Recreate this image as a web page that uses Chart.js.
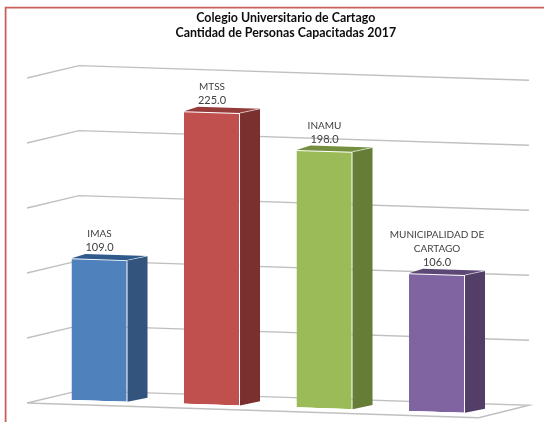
<!DOCTYPE html>
<html>
<head>
<meta charset="utf-8">
<style>html,body{margin:0;padding:0;background:#fff}canvas{display:block;filter:blur(0.35px)}</style>
<script src="https://cdn.jsdelivr.net/npm/chart.js@4"></script>
</head>
<body>
<canvas id="c" width="544" height="422"></canvas>
<script>
const titleLines = ['Colegio Universitario de Cartago', 'Cantidad de Personas Capacitadas 2017'];
const categories = ['IMAS', 'MTSS', 'INAMU', 'MUNICIPALIDAD DE CARTAGO'];
const labelLines = [['IMAS'], ['MTSS'], ['INAMU'], ['MUNICIPALIDAD DE', 'CARTAGO']];
const values = [109, 225, 198, 106];
const yTicks = [0, 50, 100, 150, 200, 250];
const frontColors = ['#4f81bd', '#c0504d', '#9bbb59', '#8064a2'];
const sideColors = ['#32547d', '#7a302e', '#667d38', '#523e66'];
const topColors = ['#2f5a8c', '#953c3a', '#738f3f', '#5c4775'];

const SHEAR = 0.0326;
const DEPTH_X = 20, DEPTH_Y = -4.85, TOP_INSET = 6;

const perspective = {
  id: 'perspective',
  afterLayout(chart) {
    // centre the title on the reference's title column
    const t = chart.titleBlock;
    if (t) { t.left += 35; }
  },
  beforeDraw(chart) {
    const ctx = chart.ctx;
    ctx.save();
    ctx.fillStyle = '#ffffff';
    ctx.fillRect(0, 0, chart.width, chart.height);
    ctx.strokeStyle = '#c9605d';
    ctx.lineWidth = 1.8;
    ctx.beginPath();
    ctx.moveTo(5.6, 424);
    ctx.lineTo(5.6, 7.6);
    ctx.lineTo(546, 7.6);
    ctx.stroke();
    ctx.restore();
  },
  beforeDatasetsDraw(chart) {
    const ctx = chart.ctx, y = chart.scales.y;
    ctx.save();
    ctx.transform(1, SHEAR, 0, 1, 0, 0);
    // walls and floor, placed from the value scale
    const xl = 27, xb = 79, xr = 529, xf = 478.7, front = 4.45, back = -9.64;
    ctx.strokeStyle = '#c0c0c0';
    ctx.lineWidth = 1.4;
    yTicks.forEach(v => {
      const p = y.getPixelForValue(v);
      ctx.beginPath();
      ctx.moveTo(xl, p + front);
      ctx.lineTo(xb, p + back);
      ctx.lineTo(xr, p + back);
      if (v === 0) {
        ctx.lineTo(xf, p + front);
        ctx.lineTo(xl, p + front);
      }
      ctx.stroke();
    });
  },
  afterDatasetsDraw(chart) {
    const ctx = chart.ctx;
    const bars = chart.getDatasetMeta(0).data;
    bars.forEach((b, i) => {
      const l = b.x - b.width / 2, r = b.x + b.width / 2;
      ctx.fillStyle = sideColors[i];
      ctx.beginPath();
      ctx.moveTo(r, b.y);
      ctx.lineTo(r + DEPTH_X, b.y + DEPTH_Y);
      ctx.lineTo(r + DEPTH_X, b.base + DEPTH_Y);
      ctx.lineTo(r, b.base);
      ctx.closePath();
      ctx.fill();
      ctx.fillStyle = topColors[i];
      ctx.beginPath();
      ctx.moveTo(l, b.y);
      ctx.lineTo(l + DEPTH_X - TOP_INSET, b.y + DEPTH_Y);
      ctx.lineTo(r + DEPTH_X, b.y + DEPTH_Y);
      ctx.lineTo(r, b.y);
      ctx.closePath();
      ctx.fill();
      ctx.strokeStyle = 'rgba(255,255,255,0.55)';
      ctx.lineWidth = 1;
      ctx.beginPath();
      ctx.moveTo(r, b.y);
      ctx.lineTo(r + DEPTH_X, b.y + DEPTH_Y);
      ctx.stroke();
    });
    ctx.restore();
    // value labels
    ctx.save();
    ctx.fillStyle = '#404040';
    ctx.textAlign = 'center';
    ctx.textBaseline = 'middle';
    bars.forEach((b, i) => {
      const top = b.y + SHEAR * (b.x - b.width / 2);
      const lines = labelLines[i].concat(values[i].toFixed(1));
      lines.forEach((s, k) => {
        const isValue = k === lines.length - 1;
        ctx.font = (isValue ? '11' : '10') + 'px Lato, sans-serif';
        ctx.fillText(s, b.x, top - 10.5 - 14 * (lines.length - 1 - k));
      });
    });
    ctx.restore();
  }
};

new Chart(document.getElementById('c'), {
  type: 'bar',
  data: {
    labels: categories,
    datasets: [{
      data: values,
      backgroundColor: frontColors,
      borderColor: 'rgba(255,255,255,0.75)',
      borderWidth: { top: 1, right: 1, bottom: 0, left: 0 },
      barPercentage: 1,
      categoryPercentage: 0.498
    }]
  },
  options: {
    responsive: false,
    animation: false,
    layout: { padding: { top: 10, bottom: 24.33, left: 43.25, right: 50.75 } },
    plugins: {
      legend: { display: false },
      tooltip: { enabled: false },
      title: {
        display: true,
        text: titleLines,
        color: '#0d0d0d',
        font: { family: 'Lato, sans-serif', size: 12.4, weight: 'bold', lineHeight: 1.25 },
        padding: { top: 0, bottom: 31.67 }
      }
    },
    scales: {
      x: { display: false },
      y: { display: false, min: 0, max: 250, ticks: { stepSize: 50 } }
    }
  },
  plugins: [perspective]
});
</script>
</body>
</html>
